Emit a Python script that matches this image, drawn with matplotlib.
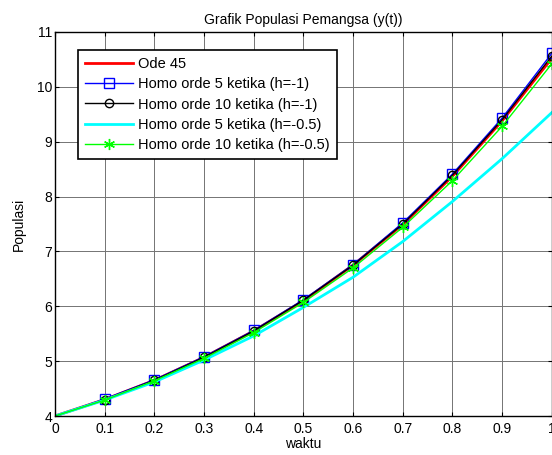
import matplotlib
matplotlib.use('Agg')
import matplotlib.pyplot as plt

plt.rcParams['font.family'] = ['Liberation Sans', 'DejaVu Sans']

# waktu (t) dan nilai populasi pemangsa
t = [0.0, 0.1, 0.2, 0.3, 0.4, 0.5, 0.6, 0.7, 0.8, 0.9, 1.0]
ode45 = [4.0, 4.30, 4.65, 5.07, 5.55, 6.10, 6.75, 7.49, 8.37, 9.38, 10.52]
homo5_h1 = [4.0, 4.31, 4.66, 5.08, 5.56, 6.12, 6.76, 7.52, 8.41, 9.43, 10.61]
homo10_h1 = [4.0, 4.30, 4.65, 5.07, 5.55, 6.11, 6.75, 7.50, 8.39, 9.40, 10.56]
homo5_h05 = [4.0, 4.29, 4.62, 5.02, 5.46, 5.98, 6.53, 7.18, 7.91, 8.69, 9.53]
homo10_h05 = [4.0, 4.29, 4.64, 5.05, 5.52, 6.07, 6.70, 7.44, 8.29, 9.28, 10.42]

xticks = [0, 0.1, 0.2, 0.3, 0.4, 0.5, 0.6, 0.7, 0.8, 0.9, 1]
xticklabels = ['0', '0.1', '0.2', '0.3', '0.4', '0.5', '0.6', '0.7', '0.8', '0.9', '1']
yticks = [4, 5, 6, 7, 8, 9, 10, 11]

fig = plt.figure(figsize=(5.52, 4.55), dpi=100)
ax = fig.add_axes([0.0996, 0.0857, 0.9, 0.844])

ax.plot(t, ode45, color='red', lw=2, label='Ode 45')
ax.plot(t, homo5_h1, color='blue', lw=1, marker='s', ms=7, mfc='none',
        mec='blue', markevery=slice(1, None), label='Homo orde 5 ketika (h=-1)')
ax.plot(t, homo10_h1, color='black', lw=1, marker='o', ms=6, mfc='none',
        mec='black', markevery=slice(1, None), label='Homo orde 10 ketika (h=-1)')
ax.plot(t, homo5_h05, color='cyan', lw=2, label='Homo orde 5 ketika (h=-0.5)')
ax.plot(t, homo10_h05, color='#00ff00', lw=1, marker=(6, 2, 0), ms=8,
        mec='#00ff00', markevery=slice(1, None), label='Homo orde 10 ketika (h=-0.5)')

ax.set_xlim(0, 1)
ax.set_ylim(4, 11)
ax.set_xticks(xticks)
ax.set_xticklabels(xticklabels)
ax.set_yticks(yticks)
ax.tick_params(axis='both', direction='in', top=True, right=True, labelsize=10, length=3)
ax.tick_params(axis='x', pad=4)
ax.tick_params(axis='y', pad=2)
ax.grid(True, color='0.45', lw=0.7)
for s in ax.spines.values():
    s.set_linewidth(1)

ax.set_title('Grafik Populasi Pemangsa (y(t))', fontsize=10, pad=6)
ax.set_xlabel('waktu', fontsize=10, labelpad=1)
ax.set_ylabel('Populasi', fontsize=10, labelpad=8)

leg = ax.legend(loc='upper left', bbox_to_anchor=(0.046, 0.953), fontsize=10.5,
                handlelength=3.3, handletextpad=0.3, borderpad=0.5,
                borderaxespad=0, labelspacing=0.42, fancybox=False, framealpha=1)
leg.get_frame().set_edgecolor('black')
leg.get_frame().set_linewidth(1.2)

fig.savefig('out.png', dpi=100)
